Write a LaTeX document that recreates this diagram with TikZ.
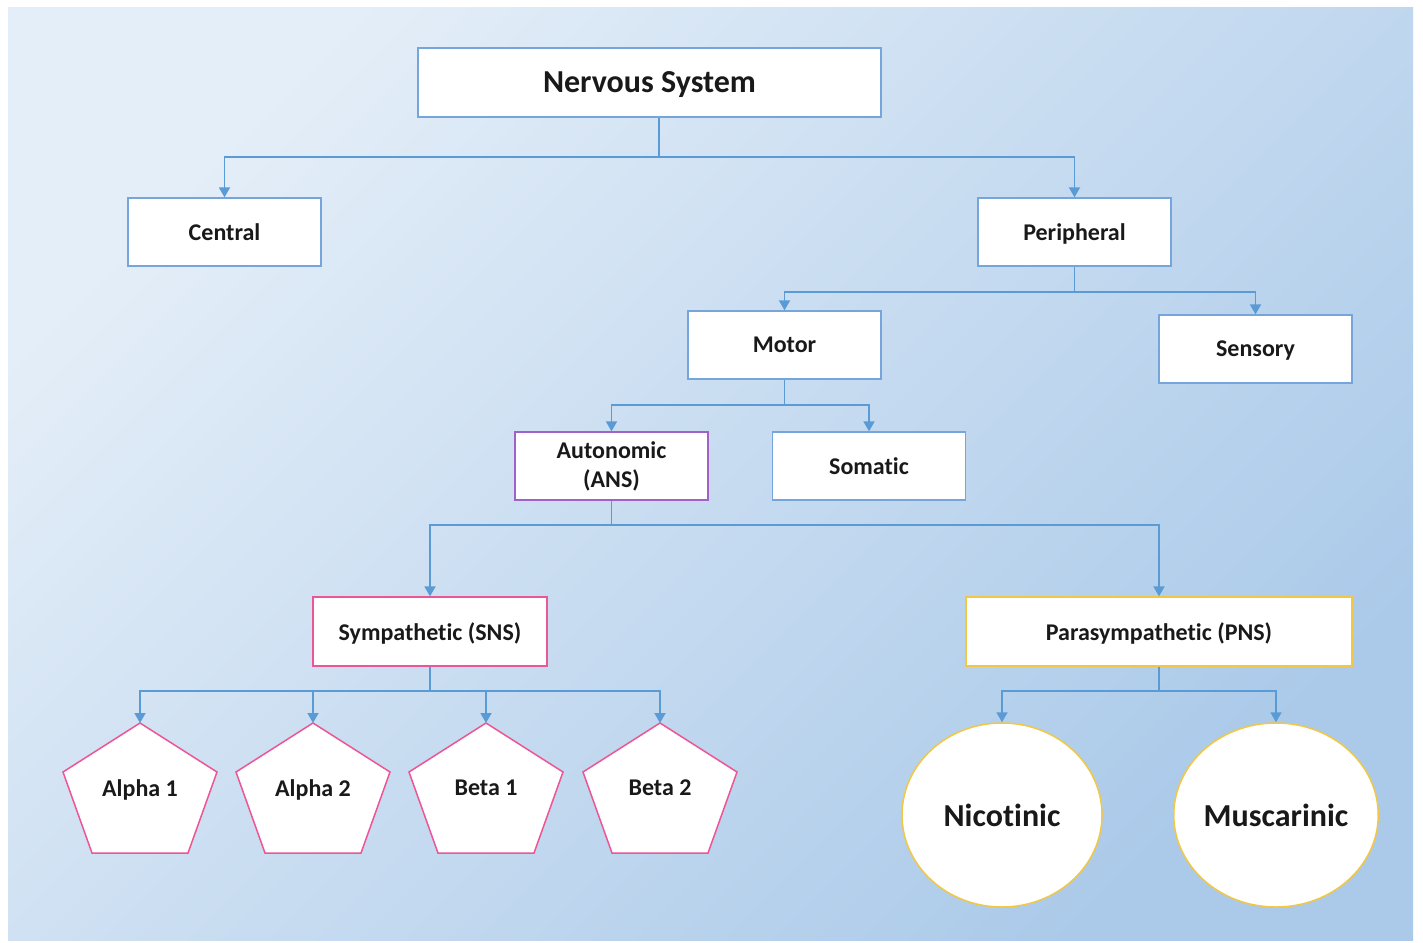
\documentclass[tikz,border=0pt]{standalone}
\usepackage{fontspec}
\setmainfont{Carlito}[Ligatures=NoCommon]
\usetikzlibrary{shapes.geometric,arrows.meta,calc}
\definecolor{cblue}{HTML}{5B9BD5}
\definecolor{boxblue}{HTML}{76A5DB}
\definecolor{purp}{HTML}{A062C8}
\definecolor{pinkc}{HTML}{EC5596}
\definecolor{goldc}{HTML}{F2C744}
\definecolor{bgA}{HTML}{E4EEF8}
\definecolor{bgB}{HTML}{ABCAE9}
\newcommand\mkpentagon[3]{%
  \coordinate (#1top) at (#2,723);
  \filldraw[pentshape] (#2,723) -- ++(77,49) -- ++(-29,81) -- ++(-96,0) -- ++(-29,-81) -- cycle;
  \node[pentlabel] (#1) at (#2,788) {#3};
}
\begin{document}
\begin{tikzpicture}[x=1pt,y=-1pt,
  nbox/.style={draw=boxblue, fill=white, line width=1.3pt, minimum width=193pt, minimum height=68pt, inner sep=0pt, text depth=0pt, font=\bfseries\fontsize{24}{29}\selectfont, text=black!90},
  cline/.style={draw=cblue, line width=1.8pt},
  conn/.style={cline, -{Triangle[width=11pt,length=10pt]}},
  pentshape/.style={draw=pinkc, fill=white, line width=1.5pt, line join=miter},
  pentlabel/.style={inner sep=0pt, text depth=0pt, font=\bfseries\fontsize{24}{29}\selectfont, text=black!90},
  ell/.style={ellipse, draw=goldc, fill=white, line width=1.5pt, minimum width=200pt, minimum height=184pt, inner sep=0pt, font=\bfseries\fontsize{32}{38}\selectfont, text=black!90}
]
\useasboundingbox (0,0) rectangle (1423,942);
\fill[white] (0,0) rectangle (1423,942);
\shade[top color=bgA, bottom color=bgB, shading angle=45] (8,8) rectangle (1413,940);

\node[nbox, minimum width=463pt, minimum height=69pt, font=\bfseries\fontsize{32}{38}\selectfont] (ns) at (649.5,82.5) {Nervous System};
\node[nbox] (central) at (224.5,232) {Central};
\node[nbox] (periph) at (1074.5,232) {Peripheral};
\node[nbox] (motor) at (784.5,345) {Motor};
\node[nbox] (sensory) at (1255.5,349) {Sensory};
\node[nbox, draw=purp, align=center, text depth=] (ans) at (611.5,466) {Autonomic\\(ANS)};
\node[nbox] (somatic) at (869,466) {Somatic};
\node[nbox, draw=pinkc, minimum width=234pt, minimum height=69pt] (sns) at (430,631.5) {Sympathetic (SNS)};
\node[nbox, draw=goldc, minimum width=386pt, minimum height=69pt] (pns) at (1159,631.5) {Parasympathetic (PNS)};

\mkpentagon{a1}{140}{Alpha 1}
\mkpentagon{a2}{313}{Alpha 2}
\mkpentagon{b1}{486}{Beta 1}
\mkpentagon{b2}{660}{Beta 2}

\node[ell] (nic) at (1002,815) {Nicotinic};
\node[ell] (mus) at (1276,815) {Muscarinic};

% connectors
\coordinate (j1) at (659,157);
\draw[cline] (ns.south -| j1) -- (j1);
\draw[conn] (j1) -| (central);
\draw[conn] (j1) -| (periph);

\draw[cline] (periph.south) -- ++(0,25) coordinate (j2);
\draw[conn] (j2) -| (motor);
\draw[conn] (j2) -| (sensory);

\draw[cline] (motor.south) -- ++(0,25) coordinate (j3);
\draw[conn] (j3) -| (ans);
\draw[conn] (j3) -| (somatic);

\draw[cline] (ans.south) -- ++(0,24) coordinate (j4);
\draw[conn] (j4) -| (sns);
\draw[conn] (j4) -| (pns);

\draw[cline] (sns.south) -- ++(0,24) coordinate (j5);
\draw[conn] (j5) -| (a1top);
\draw[conn] (j5) -| (a2top);
\draw[conn] (j5) -| (b1top);
\draw[conn] (j5) -| (b2top);

\draw[cline] (pns.south) -- ++(0,24) coordinate (j6);
\draw[conn] (j6) -| (nic);
\draw[conn] (j6) -| (mus);
\end{tikzpicture}
\end{document}
